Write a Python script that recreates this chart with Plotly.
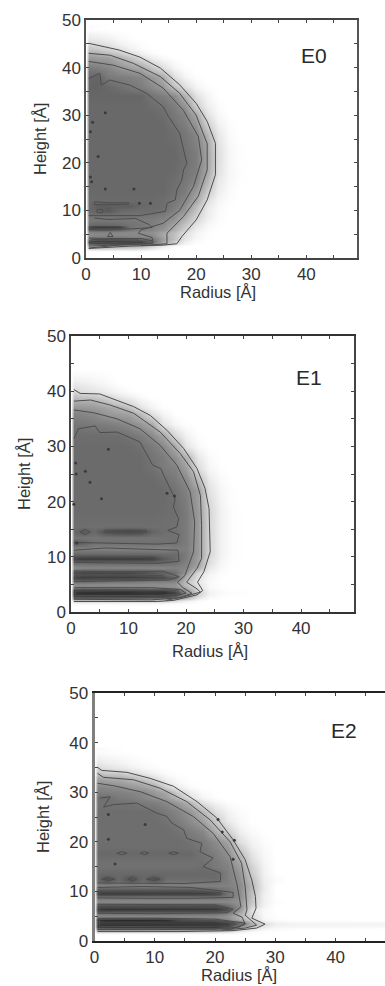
import plotly.graph_objects as go

# Radial columns (Angstrom) shared by all panels; rows below start at r = 0.5
RADIUS = [0.5, 2, 4, 6, 8, 10, 12, 14, 16, 18, 20, 22, 24, 26, 28, 30, 32, 34, 48]
TICK_VALUES = [0, 5, 10, 15, 20, 25, 30, 35, 40, 45, 50]
TICK_LABELS = ["0", "", "10", "", "20", "", "30", "", "40", "", "50"]

# Grey level (0 black .. 255 white), by height row
E0_H = [1.5, 2, 2.5, 3, 3.5, 4, 4.5, 5, 5.5, 6, 6.5, 7, 8, 9, 10, 11, 12, 14, 16, 18, 20, 22, 24, 26, 28, 30, 32, 34, 36, 38, 40, 42, 43, 44, 45, 46, 48]
E0_Z = [
    [250, 250, 250, 250, 250, 250, 252, 254],
    [215, 212, 212, 215, 218, 222, 235, 248, 254],
    [170, 165, 165, 168, 172, 178, 205, 235, 250],
    [90, 80, 80, 82, 85, 90, 125, 175, 215, 245, 254],
    [60, 50, 50, 50, 52, 58, 100, 160, 200, 240, 252],
    [110, 95, 95, 100, 100, 100, 112, 155, 190, 230, 248, 254],
    [135, 125, 125, 120, 128, 130, 130, 160, 190, 225, 245, 253],
    [135, 132, 132, 135, 135, 135, 138, 165, 190, 222, 244, 253],
    [128, 125, 125, 128, 132, 135, 140, 158, 185, 218, 242, 252],
    [90, 85, 85, 95, 115, 122, 130, 145, 172, 208, 238, 250],
    [65, 55, 55, 55, 110, 118, 125, 138, 165, 200, 232, 248, 254],
    [105, 100, 100, 105, 110, 115, 122, 135, 160, 195, 228, 246, 253],
    [118, 115, 115, 115, 118, 118, 120, 128, 145, 178, 215, 240, 252],
    [108, 108, 108, 108, 108, 110, 112, 118, 135, 165, 205, 236, 250],
    [100, 95, 85, 100, 105, 105, 105, 108, 125, 150, 195, 235, 250],
    [100, 90, 90, 90, 90, 100, 102, 105, 118, 140, 185, 230, 248, 254],
    [102, 102, 102, 102, 102, 102, 102, 105, 115, 130, 165, 222, 245, 253],
    [100, 100, 100, 100, 100, 100, 100, 100, 108, 120, 150, 200, 238, 250],
    [100, 100, 100, 100, 100, 100, 100, 100, 105, 115, 130, 180, 232, 248, 254],
    [100, 100, 100, 100, 100, 100, 100, 100, 102, 112, 122, 165, 225, 246, 253],
    [100, 100, 100, 100, 100, 100, 100, 100, 100, 108, 120, 160, 222, 246, 254],
    [100, 100, 100, 100, 100, 100, 100, 100, 100, 108, 120, 160, 222, 246, 254],
    [100, 100, 100, 100, 100, 100, 100, 100, 102, 112, 125, 165, 225, 248, 254],
    [100, 100, 100, 100, 100, 100, 100, 100, 105, 115, 130, 180, 232, 250],
    [100, 100, 100, 100, 100, 100, 100, 100, 110, 122, 145, 205, 240, 252],
    [100, 100, 100, 100, 100, 100, 100, 105, 115, 128, 165, 225, 248],
    [100, 100, 100, 100, 100, 100, 105, 110, 122, 145, 205, 238, 252],
    [98, 98, 98, 98, 98, 98, 112, 122, 135, 175, 225, 245],
    [95, 95, 100, 108, 115, 122, 135, 150, 190, 222, 245, 254],
    [100, 95, 118, 122, 125, 130, 150, 170, 222, 245, 254],
    [118, 122, 130, 145, 155, 165, 195, 222, 245, 254],
    [150, 152, 155, 172, 192, 215, 238, 250],
    [165, 170, 185, 198, 220, 238, 250],
    [195, 200, 210, 225, 240, 250],
    [215, 218, 228, 240, 248, 253],
    [232, 235, 240, 248, 253],
    [252, 253],
]

E1_H = [1.5, 2, 2.5, 3, 3.5, 4, 4.5, 5, 5.5, 6.2, 6.7, 7.2, 8, 9, 9.6, 10.5, 11.5, 12.5, 13.5, 14.5, 15.5, 18, 20, 22, 24, 26, 28, 30, 32, 34, 36, 37, 38, 39, 40, 41, 42, 44]
E1_Z = [
    [250, 250, 250, 250, 250, 250, 250, 250, 250, 252, 254],
    [205, 200, 200, 200, 200, 205, 205, 205, 210, 218, 240, 252],
    [125, 120, 120, 120, 120, 120, 120, 125, 135, 155, 190, 235, 250],
    [60, 55, 55, 55, 55, 55, 55, 60, 60, 80, 150, 215, 245, 252, 254],
    [50, 45, 45, 45, 45, 45, 50, 50, 45, 60, 135, 205, 240, 250, 252, 253],
    [65, 60, 60, 60, 60, 60, 65, 65, 70, 95, 150, 215, 245, 252, 254],
    [125, 120, 120, 120, 122, 125, 125, 130, 130, 140, 170, 222, 248, 254],
    [138, 135, 138, 138, 138, 138, 138, 140, 140, 145, 185, 225, 248, 254],
    [110, 105, 108, 110, 115, 115, 118, 125, 125, 130, 190, 232, 250],
    [60, 55, 55, 55, 55, 55, 55, 62, 70, 95, 175, 225, 246, 254],
    [85, 80, 80, 80, 80, 80, 85, 90, 95, 110, 160, 220, 245, 253],
    [70, 65, 65, 65, 65, 65, 70, 80, 90, 108, 145, 215, 242, 252],
    [135, 130, 130, 130, 130, 130, 130, 130, 130, 125, 130, 168, 232, 248, 254],
    [100, 100, 100, 100, 100, 100, 100, 100, 102, 108, 125, 155, 222, 246, 254],
    [60, 55, 55, 55, 55, 55, 55, 58, 85, 100, 120, 155, 218, 244, 253],
    [102, 102, 102, 102, 102, 102, 102, 102, 105, 105, 118, 150, 212, 242, 252],
    [125, 125, 125, 125, 125, 125, 125, 125, 128, 122, 122, 150, 212, 242, 252],
    [85, 92, 108, 108, 108, 108, 108, 108, 108, 108, 118, 150, 212, 242, 252],
    [112, 112, 112, 112, 112, 112, 112, 112, 110, 108, 118, 150, 212, 242, 252],
    [100, 85, 100, 75, 68, 65, 68, 95, 105, 108, 118, 150, 212, 242, 252],
    [106, 106, 106, 106, 106, 106, 106, 106, 106, 108, 118, 150, 212, 242, 252],
    [102, 102, 102, 102, 102, 102, 102, 102, 104, 106, 118, 150, 212, 242, 252],
    [102, 102, 102, 102, 102, 102, 102, 102, 102, 108, 120, 155, 218, 244, 254],
    [102, 102, 102, 102, 102, 102, 102, 102, 102, 110, 125, 155, 225, 246, 254],
    [102, 102, 102, 102, 102, 102, 102, 102, 108, 118, 135, 185, 235, 250],
    [102, 102, 102, 102, 102, 102, 102, 108, 118, 125, 155, 218, 245, 254],
    [102, 102, 102, 102, 102, 102, 102, 112, 120, 140, 175, 232, 250],
    [102, 102, 102, 102, 102, 102, 108, 118, 132, 165, 228, 248],
    [105, 105, 105, 105, 105, 112, 120, 135, 160, 215, 242, 254],
    [112, 115, 118, 120, 125, 132, 145, 165, 225, 245, 254],
    [128, 130, 135, 148, 155, 160, 185, 225, 245],
    [145, 148, 152, 160, 170, 190, 225, 245, 254],
    [165, 165, 168, 185, 200, 218, 238, 250],
    [190, 195, 198, 210, 228, 240, 250],
    [212, 222, 228, 235, 245, 252],
    [228, 232, 238, 245, 252],
    [240, 242, 246, 250],
    [254],
]

E2_H = [1.5, 2, 2.5, 2.9, 3.5, 4, 4.4, 5, 5.6, 6.4, 7.1, 8, 9, 9.5, 10.3, 11.2, 12.4, 13.5, 15, 16, 17.7, 19, 20, 22, 24, 26, 28, 29, 30, 31, 32, 33, 34, 35, 36, 38]
E2_Z = [
    [250, 250, 250, 250, 250, 250, 250, 250, 250, 250, 250, 252, 254],
    [212, 210, 210, 210, 210, 210, 210, 210, 210, 210, 210, 220, 240, 250, 254],
    [105, 105, 105, 105, 105, 105, 105, 105, 105, 105, 105, 130, 185, 225, 245, 250, 252],
    [50, 45, 45, 45, 45, 45, 45, 45, 45, 45, 45, 65, 130, 190, 232, 243, 245, 246, 248],
    [58, 55, 55, 55, 55, 55, 55, 55, 55, 55, 55, 60, 100, 170, 215, 238, 242, 243, 243],
    [62, 60, 60, 60, 60, 60, 60, 60, 60, 60, 60, 80, 125, 185, 235, 245, 248, 250, 250],
    [45, 35, 35, 35, 35, 35, 40, 70, 80, 90, 100, 130, 170, 208, 245, 252],
    [140, 135, 135, 135, 135, 135, 135, 135, 135, 135, 135, 145, 175, 215, 248, 254],
    [110, 110, 110, 110, 110, 110, 110, 110, 110, 110, 110, 125, 170, 220, 248],
    [55, 50, 50, 50, 50, 50, 50, 50, 50, 50, 50, 75, 145, 225, 248],
    [80, 75, 75, 75, 75, 75, 75, 75, 75, 75, 75, 105, 140, 205, 242],
    [135, 135, 135, 135, 135, 135, 135, 135, 135, 135, 135, 135, 145, 195, 240, 252],
    [105, 105, 105, 105, 105, 105, 105, 105, 105, 105, 105, 115, 135, 190, 240],
    [60, 55, 55, 55, 55, 55, 55, 55, 55, 55, 65, 110, 135, 190, 238],
    [85, 85, 85, 85, 85, 85, 85, 85, 85, 90, 100, 115, 135, 185, 235],
    [125, 125, 125, 125, 125, 125, 125, 125, 125, 125, 125, 125, 135, 180, 235],
    [100, 75, 100, 75, 100, 75, 105, 105, 105, 105, 105, 122, 140, 190, 238, 250],
    [100, 100, 100, 100, 100, 100, 100, 100, 100, 100, 100, 122, 145, 200, 240],
    [108, 108, 108, 108, 108, 108, 108, 108, 108, 105, 118, 125, 155, 208, 242],
    [108, 108, 108, 108, 108, 108, 108, 108, 108, 108, 118, 130, 165, 218, 245],
    [100, 100, 100, 100, 100, 100, 100, 100, 100, 112, 122, 140, 185, 228, 248],
    [105, 105, 105, 105, 105, 105, 105, 105, 108, 115, 130, 150, 205, 238, 250],
    [105, 105, 105, 105, 105, 105, 105, 105, 110, 118, 135, 160, 222, 242, 252],
    [105, 105, 105, 105, 105, 105, 105, 110, 120, 130, 170, 205, 238, 250],
    [105, 105, 105, 105, 105, 105, 110, 120, 135, 155, 195, 232, 248],
    [105, 105, 105, 105, 105, 108, 118, 130, 148, 180, 222, 242, 252],
    [110, 110, 110, 110, 118, 122, 132, 152, 180, 225, 244, 253],
    [105, 105, 118, 122, 130, 140, 155, 185, 225, 245, 254],
    [122, 122, 125, 128, 132, 148, 165, 205, 235, 250],
    [128, 132, 135, 145, 155, 168, 205, 235, 250],
    [145, 150, 155, 165, 175, 195, 232, 248, 254],
    [165, 170, 172, 185, 205, 225, 244, 252],
    [195, 205, 205, 218, 232, 245, 252],
    [215, 225, 232, 240, 248, 252],
    [232, 238, 242, 248, 252],
    [250, 252, 254],
]

# Contour lines: (radius, height)
E0_C1_R = [0.5, 2.5, 6, 9.8, 13.5, 17, 20, 22, 23.5, 23.5, 22, 20, 17.4, 16.5, 14, 8, 0.5]
E0_C1_H = [45.1, 44.6, 43.7, 42.2, 39.9, 36.4, 32.5, 28.7, 24.1, 17.5, 12.2, 8, 4.5, 3, 2.7, 2.5, 2]
E0_C2_R = [0.5, 4.4, 8.6, 13.5, 17, 20, 22, 22, 20.4, 17.7, 14.7, 14.7, 10]
E0_C2_H = [43, 42.6, 40.9, 38.1, 34.6, 30, 24, 18.5, 13, 8.7, 5.2, 3, 2.6]
E0_C3_R = [0.5, 5, 9.8, 14, 17.7, 20.4, 21, 19.5, 17, 14, 10, 9.5, 12, 12.2, 6, 0.5]
E0_C3_H = [41.3, 40.5, 38.8, 35.7, 31, 25.5, 20.6, 15, 10, 7.3, 5.9, 5.2, 4.3, 3.1, 2.7, 2.1]
E0_C4_R = [0.5, 2.5, 2.8, 4.3, 8, 11, 14, 15, 17, 17.5, 18, 18.3, 17.7, 17.4, 16.5, 16.2, 14.7, 14.4, 9.8, 0.5]
E0_C4_H = [37.7, 38.8, 36.3, 37.4, 36.3, 34.6, 31.8, 29.7, 26.2, 24, 21.3, 19.9, 18.5, 16.4, 14.3, 12.2, 11.5, 9.8, 8.9, 8.9]
E0_B1_R = [1.5, 4, 9, 11.5, 12, 8, 1, 0.5]
E0_B1_H = [8.4, 8.1, 8.3, 7, 6.4, 6.1, 6, 6]
E0_B2_R = [0.5, 4, 10, 12, 11.5, 8, 1, 0.5]
E0_B2_H = [4.2, 4.1, 4.1, 3.6, 3, 2.9, 2.5, 2.5]
E0_B3_R = [1, 4, 9.5, 9.5, 4, 1, 1]
E0_B3_H = [3.9, 3.9, 3.8, 3.4, 3.2, 3.3, 3.9]
E0_B4_R = [1.5, 4, 7.7, 7.7, 4, 1.5, 1.5]
E0_B4_H = [11.8, 11.6, 11.6, 11.3, 11.2, 11.2, 11.8]
E0_B5_R = [1, 3, 6, 6, 3, 1, 1]
E0_B5_H = [6.6, 6.6, 6.6, 6.2, 6.2, 6.2, 6.6]
E0_B6_R = [3.9, 4.4, 4.9, 3.9]
E0_B6_H = [4.5, 5.4, 4.5, 4.5]
E0_B7_R = [2, 3, 3, 2, 2]
E0_B7_H = [10.2, 10.2, 9.5, 9.5, 10.2]
E0_DOT_R = [3.5, 1.2, 0.8, 2.2, 3.5, 8.7, 9.7, 11.7, 0.8, 1]
E0_DOT_H = [30.5, 28.5, 26.5, 21.3, 14.5, 14.5, 11.5, 11.5, 17, 16]

E1_C1_R = [0.5, 1.6, 5, 8, 10.9, 13.8, 16.7, 19.6, 21.9, 23.3, 24, 24.2, 23.1, 22, 22.9, 21.9, 17.8, 15, 0.5]
E1_C1_H = [40.3, 39.6, 39.5, 38.4, 37.2, 35.6, 32.9, 29.6, 26, 22.4, 18.7, 10.9, 7.3, 5.4, 3.9, 3.1, 2.1, 1.9, 1.9]
E1_C2_R = [0.5, 3.4, 6.8, 10.9, 15.5, 19, 21.3, 22.5, 22.7, 22.7, 21.9, 20.1, 21.9, 22.5, 20.1, 16.5]
E1_C2_H = [38.2, 38.4, 37.5, 36, 32.6, 28.7, 25.4, 21.1, 15.7, 9.7, 7.9, 5.4, 4.2, 3.6, 2.9, 2.1]
E1_C3_R = [0.5, 3.9, 8, 12, 15.5, 18.4, 20.7, 21.5, 21.3, 19.8, 18.5, 19.5, 21, 19, 14, 2, 0.5]
E1_C3_H = [36.6, 36.1, 35, 33.2, 30.2, 26.6, 21.8, 16.3, 10.9, 6.6, 5.4, 4.4, 3.4, 2.6, 2.2, 2.2, 2.3]
E1_C4_R = [0.5, 1.3, 4.2, 5, 8, 12, 14.2, 15.6, 16.1, 18.1, 17.8, 18.7, 18.4, 16.8, 18.8, 18.4, 15, 0.5]
E1_C4_H = [31.4, 33.2, 33.7, 32.5, 32.6, 30.8, 26.6, 26, 24.8, 20.5, 19, 16.9, 15.4, 14.8, 14, 12.5, 12.3, 12.6]
E1_B1_R = [0.5, 6, 12, 18.6, 18.8, 15, 6, 0.5]
E1_B1_H = [11.2, 11.6, 11.4, 11.2, 9.2, 8.8, 8.9, 9]
E1_B2_R = [1, 6, 14.6, 14.6, 6, 1, 1]
E1_B2_H = [9.9, 9.9, 9.9, 9.4, 9.3, 9.3, 9.9]
E1_B3_R = [0.5, 8, 16, 18.8, 17, 8, 0.5]
E1_B3_H = [7.4, 7.3, 7.4, 6.4, 5.8, 5.6, 5.5]
E1_B4_R = [0.8, 8, 16, 16, 8, 0.8, 0.8]
E1_B4_H = [6.6, 6.6, 6.6, 6.1, 6, 6, 6.6]
E1_B5_R = [0.5, 8, 14, 19, 20, 17, 8, 0.5]
E1_B5_H = [4.4, 4.4, 4.4, 4.1, 3.4, 2.6, 2.5, 2.5]
E1_B6_R = [0.8, 8, 15, 18.5, 19, 15, 8, 0.8, 0.8]
E1_B6_H = [3.8, 3.8, 3.9, 4, 3.3, 3, 3, 3, 3.8]
E1_B7_R = [5.9, 9, 13.1, 13.1, 9, 5.9, 5.9]
E1_B7_H = [14.8, 14.8, 14.8, 14.4, 14.4, 14.4, 14.8]
E1_B8_R = [1.6, 2.5, 3.3, 2.5, 1.6]
E1_B8_H = [14.5, 15, 14.5, 14, 14.5]
E1_DOT_R = [2.5, 3.3, 6.5, 5.3, 0.5, 0.8, 16.7, 18, 1, 0.9]
E1_DOT_H = [25.5, 23.5, 29.5, 20.5, 19.5, 27, 21.5, 21, 12.5, 25]

E2_C1_R = [0.5, 1.2, 5.4, 9.2, 13.1, 17, 20.3, 23, 25, 26.1, 26.7, 26.8, 26.1, 28.3, 26.9, 23, 14, 0.5]
E2_C1_H = [35, 34.4, 34, 32.8, 31.2, 28.1, 24.8, 20.4, 16.4, 12.3, 9, 6.6, 4.6, 3.4, 2.6, 2.1, 1.9, 1.9]
E2_C2_R = [0.5, 1.5, 6.5, 10.9, 15.3, 19.2, 22.5, 24.4, 25, 25.3, 25, 26.9, 25, 21]
E2_C2_H = [33.8, 33, 32.5, 30.8, 28.1, 24.4, 20, 15.7, 11, 6.3, 5.2, 3.2, 2.6, 2.2]
E2_C3_R = [0.5, 3.2, 7.6, 12, 16.4, 19.7, 22.5, 23.6, 24.3, 23, 24.5, 25, 23, 0.5]
E2_C3_H = [31.8, 31.3, 30.1, 28.1, 25.1, 21.7, 17, 11.6, 6.9, 5.6, 4.8, 3.4, 2.5, 2.3]
E2_C4_R = [1, 2.6, 1.5, 3.2, 7, 10.3, 12, 12.8, 14.8, 15.3, 17.8, 17.5, 19.7, 18, 20.9, 20.9, 15, 0.5]
E2_C4_H = [28.8, 29.1, 27, 27.5, 27.8, 25.8, 25.1, 23.8, 22.4, 20.7, 19.7, 18, 16.7, 15, 13.7, 12, 11.6, 11.7]
E2_B1_R = [0.5, 8, 16, 23, 23, 16, 8, 0.5]
E2_B1_H = [10.8, 11, 10.8, 9.8, 8.8, 8.6, 8.6, 8.7]
E2_B2_R = [0.8, 10, 21, 21, 10, 0.8, 0.8]
E2_B2_H = [9.9, 9.9, 9.8, 9.3, 9.2, 9.2, 9.9]
E2_B3_R = [0.5, 10, 20, 23, 22, 10, 0.5]
E2_B3_H = [7.4, 7.3, 7.3, 6.4, 5.7, 5.5, 5.6]
E2_B4_R = [0.8, 10, 22, 22, 10, 0.8, 0.8]
E2_B4_H = [6.8, 6.8, 6.7, 6.1, 6, 6, 6.8]
E2_B5_R = [0.5, 10, 20, 25, 24, 20, 10, 0.5]
E2_B5_H = [4.6, 4.6, 4.4, 3.6, 2.8, 2.4, 2.3, 2.3]
E2_B6_R = [0.8, 11, 22, 23.5, 22, 11, 0.8, 0.8]
E2_B6_H = [4.4, 4.4, 4, 3.5, 3, 2.9, 2.9, 4.4]
E2_B7_R = [1.2, 2.3, 3.4, 2.3, 1.2]
E2_B7_H = [12.5, 12.8, 12.5, 12.2, 12.5]
E2_B8_R = [5.6, 6.3, 7, 6.3, 5.6]
E2_B8_H = [12.5, 13, 12.5, 12, 12.5]
E2_B9_R = [8.7, 9.8, 10.9, 9.8, 8.7]
E2_B9_H = [12.5, 12.8, 12.5, 12.2, 12.5]
E2_B10_R = [3.7, 4.5, 5.4, 4.5, 3.7]
E2_B10_H = [17.7, 18, 17.7, 17.4, 17.7]
E2_B11_R = [7.6, 8.3, 9, 8.3, 7.6]
E2_B11_H = [17.7, 18, 17.7, 17.4, 17.7]
E2_B12_R = [12.3, 13.1, 13.9, 13.1, 12.3]
E2_B12_H = [17.7, 18, 17.7, 17.4, 17.7]
E2_DOT_R = [2.3, 8.4, 2.3, 3.4, 20.5, 21.2, 23.2, 23]
E2_DOT_H = [25.5, 23.5, 20.5, 15.5, 24.5, 22, 20.3, 16.5]

PANEL_NAMES = ["E0", "E1", "E2"]

E0_LINES = [(E0_C1_R, E0_C1_H), (E0_C2_R, E0_C2_H), (E0_C3_R, E0_C3_H), (E0_C4_R, E0_C4_H), (E0_B1_R, E0_B1_H),
            (E0_B2_R, E0_B2_H), (E0_B3_R, E0_B3_H), (E0_B4_R, E0_B4_H), (E0_B5_R, E0_B5_H), (E0_B6_R, E0_B6_H), (E0_B7_R, E0_B7_H)]
E1_LINES = [(E1_C1_R, E1_C1_H), (E1_C2_R, E1_C2_H), (E1_C3_R, E1_C3_H), (E1_C4_R, E1_C4_H), (E1_B1_R, E1_B1_H),
            (E1_B2_R, E1_B2_H), (E1_B3_R, E1_B3_H), (E1_B4_R, E1_B4_H), (E1_B5_R, E1_B5_H), (E1_B6_R, E1_B6_H),
            (E1_B7_R, E1_B7_H), (E1_B8_R, E1_B8_H)]
E2_LINES = [(E2_C1_R, E2_C1_H), (E2_C2_R, E2_C2_H), (E2_C3_R, E2_C3_H), (E2_C4_R, E2_C4_H), (E2_B1_R, E2_B1_H),
            (E2_B2_R, E2_B2_H), (E2_B3_R, E2_B3_H), (E2_B4_R, E2_B4_H), (E2_B5_R, E2_B5_H), (E2_B6_R, E2_B6_H),
            (E2_B7_R, E2_B7_H), (E2_B8_R, E2_B8_H), (E2_B9_R, E2_B9_H), (E2_B10_R, E2_B10_H), (E2_B11_R, E2_B11_H), (E2_B12_R, E2_B12_H)]

W, H = 385, 986
TEXT = "#333333"
FONT = "Liberation Sans, Arial, sans-serif"

# pixel rectangles of the three plot areas: left, right, top, bottom, x range end
RECTS = [(86, 357, 20, 258, 49.2), (71, 354, 336, 612, 49.2), (94.5, 385, 693, 941, 48.2)]
LABEL_PX = [(314, 55), (309, 377), (344, 730)]
XTITLE_PX = [(218, 292), (210, 651), (239, 975)]
YTITLE_PX = [(40, 139), (24, 474), (43, 817)]
LINE_STYLE = [("#555555", 1.5, "#444444", 1.5), ("#444444", 1.5, "#333333", 1.5), ("#808080", 3, "#222222", 2)]
Y_MIRROR = ["allticks", "allticks", False]


def pad(row):
    # white at r = 0 (the gap beside the axis) and beyond the last row value
    return [255] + row + [255] * (len(RADIUS) - len(row))


fig = go.Figure()
annotations = []
panels = [(E0_H, E0_Z, E0_LINES, E0_DOT_R, E0_DOT_H), (E1_H, E1_Z, E1_LINES, E1_DOT_R, E1_DOT_H), (E2_H, E2_Z, E2_LINES, E2_DOT_R, E2_DOT_H)]
for i, (heights, rows, lines, dot_r, dot_h) in enumerate(panels):
    left, right, top, bottom, xmax = RECTS[i]
    suffix = "" if i == 0 else str(i + 1)
    xaxis, yaxis = "x" + suffix, "y" + suffix
    fig.add_trace(go.Heatmap(x=[0] + RADIUS, y=heights, z=[pad(r) for r in rows], xaxis=xaxis, yaxis=yaxis,
                             colorscale=[[0, "#000000"], [0.4, "#6b6b6b"], [1, "#ffffff"]], zmin=0, zmax=255, zsmooth="best",
                             showscale=False, hoverinfo="skip"))
    for rs, hs in lines:
        fig.add_trace(go.Scatter(x=rs, y=hs, mode="lines", xaxis=xaxis, yaxis=yaxis, showlegend=False, hoverinfo="skip",
                                 line=dict(color="#4d4d4d", width=1, shape="linear")))
    fig.add_trace(go.Scatter(x=dot_r, y=dot_h, mode="markers", xaxis=xaxis, yaxis=yaxis, showlegend=False, hoverinfo="skip",
                             marker=dict(color="#3a3a3a", size=3)))
    ycolor, ywidth, xcolor, xwidth = LINE_STYLE[i]
    fig.layout["xaxis" + suffix] = dict(
        domain=[left / W, right / W], range=[0, xmax], anchor=yaxis, tickmode="array", tickvals=TICK_VALUES[:10],
        ticktext=TICK_LABELS[:10], ticks="inside", ticklen=3, tickwidth=1, tickcolor="#444444", mirror="allticks",
        showline=True, linecolor=xcolor, linewidth=xwidth, showgrid=False, zeroline=False, automargin=False,
        ticklabelstandoff=0, tickfont=dict(family=FONT, size=17, color=TEXT))
    fig.layout["yaxis" + suffix] = dict(
        domain=[1 - bottom / H, 1 - top / H], range=[0, 50], anchor=xaxis, tickmode="array", tickvals=TICK_VALUES,
        ticktext=TICK_LABELS, ticks="inside", ticklen=3, tickwidth=1, tickcolor="#444444", mirror=Y_MIRROR[i],
        showline=True, linecolor=ycolor, linewidth=ywidth, showgrid=False, zeroline=False, automargin=False,
        tickfont=dict(family=FONT, size=17, color=TEXT))
    annotations.append(dict(text=PANEL_NAMES[i], xref="paper", yref="paper", x=LABEL_PX[i][0] / W, y=1 - LABEL_PX[i][1] / H,
                            xanchor="center", yanchor="middle", showarrow=False, font=dict(family=FONT, size=21, color="#2a2a2a")))
    annotations.append(dict(text="Radius [Å]", xref="paper", yref="paper", x=XTITLE_PX[i][0] / W, y=1 - XTITLE_PX[i][1] / H,
                            xanchor="center", yanchor="middle", showarrow=False, font=dict(family=FONT, size=16.5, color=TEXT)))
    annotations.append(dict(text="Height [Å]", xref="paper", yref="paper", x=YTITLE_PX[i][0] / W, y=1 - YTITLE_PX[i][1] / H,
                            xanchor="center", yanchor="middle", textangle=-90, showarrow=False, font=dict(family=FONT, size=16.5, color=TEXT)))

fig.update_layout(width=W, height=H, margin=dict(l=0, r=0, t=0, b=0, autoexpand=False), paper_bgcolor="white",
                  plot_bgcolor="white", showlegend=False, annotations=annotations)
fig.write_html("out.html", config={"displayModeBar": False}, post_script="document.body.style.margin='0';")
